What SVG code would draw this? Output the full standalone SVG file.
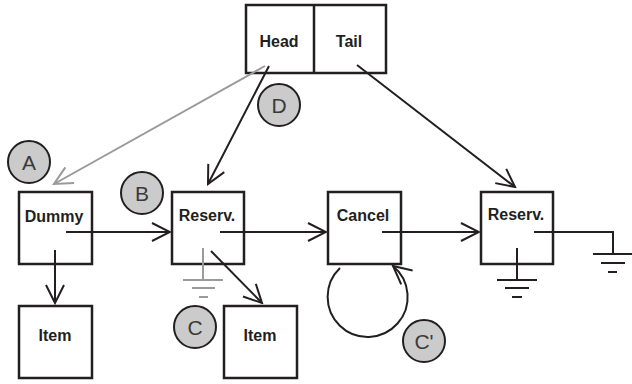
<svg xmlns="http://www.w3.org/2000/svg" width="632" height="384" viewBox="0 0 632 384">
<style>
.box{fill:#fff;stroke:#231f20;stroke-width:2.5}
.lbl{font-family:"Liberation Sans",Arial,sans-serif;font-weight:bold;font-size:16px;fill:#231f20;text-anchor:middle}
.tag circle{fill:#cbcbcb;stroke:#231f20;stroke-width:2}
.tag text{font-family:"Liberation Sans",Arial,sans-serif;font-size:21px;fill:#3a3a3a;text-anchor:middle}
.c{fill:none;stroke:#231f20;stroke-width:2}
.g{fill:none;stroke:#9a9a9a;stroke-width:2}
</style>
<defs>
<marker id="ah" markerUnits="userSpaceOnUse" viewBox="0 0 22 22" refX="20" refY="11" markerWidth="22" markerHeight="22" orient="auto">
<path d="M2,2 L20,11 L2,20" fill="none" stroke="#231f20" stroke-width="2"/>
</marker>
<marker id="ahg" markerUnits="userSpaceOnUse" viewBox="0 0 22 22" refX="20" refY="11" markerWidth="22" markerHeight="22" orient="auto">
<path d="M2,2 L20,11 L2,20" fill="none" stroke="#9a9a9a" stroke-width="2"/>
</marker>
</defs>
<rect width="632" height="384" fill="#fff"/>

<g id="headtail">
<rect class="box" x="246" y="5" width="140" height="68"/>
<line x1="314" y1="5" x2="314" y2="73" stroke="#231f20" stroke-width="2.5"/>
<text class="lbl" x="279" y="47">Head</text>
<text class="lbl" x="349" y="47">Tail</text>
</g>
<g id="dummy">
<rect class="box" x="19" y="192" width="73" height="72"/>
<text class="lbl" x="54" y="222">Dummy</text>
</g>
<g id="item1">
<rect class="box" x="19" y="306" width="73" height="72"/>
<text class="lbl" x="55" y="341">Item</text>
</g>
<g id="reserv1">
<rect class="box" x="172" y="192" width="72" height="72"/>
<text class="lbl" x="207" y="221">Reserv.</text>
</g>
<g id="item2">
<rect class="box" x="224" y="306" width="73" height="72"/>
<text class="lbl" x="260" y="341">Item</text>
</g>
<g id="cancel">
<rect class="box" x="328" y="192" width="73" height="72"/>
<text class="lbl" x="363" y="221">Cancel</text>
</g>
<g id="reserv2">
<rect class="box" x="481" y="192" width="72" height="72"/>
<text class="lbl" x="516" y="220">Reserv.</text>
</g>

<g id="connectors">
<line class="g" x1="265" y1="66" x2="54" y2="184" marker-end="url(#ahg)"/>
<line class="c" x1="269" y1="66" x2="208" y2="184" marker-end="url(#ah)"/>
<line class="c" x1="357" y1="65" x2="515" y2="187" marker-end="url(#ah)"/>
<line class="c" x1="66" y1="232" x2="170" y2="232" marker-end="url(#ah)"/>
<line class="c" x1="55" y1="250" x2="55" y2="303" marker-end="url(#ah)"/>
<line class="c" x1="220" y1="232" x2="326" y2="232" marker-end="url(#ah)"/>
<line class="c" x1="382" y1="232" x2="479" y2="232" marker-end="url(#ah)"/>
<line class="c" x1="211" y1="251" x2="262" y2="303" marker-end="url(#ah)"/>
<path class="c" d="M340,268 A40,40 0 1 0 393,266" marker-end="url(#ah)"/>
<path class="g" d="M203,248 V280 M183,280 H223 M192,288 H215 M199,297 H208"/>
<path class="c" d="M517,248 V280 M497,280 H537 M505,288 H529 M512,297 H522"/>
<path class="c" d="M534,232 H613 V254 M593,254 H632 M601,263 H625 M608,272 H617"/>
</g>

<g id="tagA" class="tag"><circle cx="29" cy="162" r="21"/><text x="29" y="170">A</text></g>
<g id="tagB" class="tag"><circle cx="142" cy="193" r="21"/><text x="142" y="201">B</text></g>
<g id="tagC" class="tag"><circle cx="195" cy="327" r="21"/><text x="195" y="335">C</text></g>
<g id="tagD" class="tag"><circle cx="279" cy="105" r="21"/><text x="279" y="113">D</text></g>
<g id="tagC2" class="tag"><circle cx="424" cy="341" r="21"/><text x="424" y="349">C'</text></g>
</svg>
